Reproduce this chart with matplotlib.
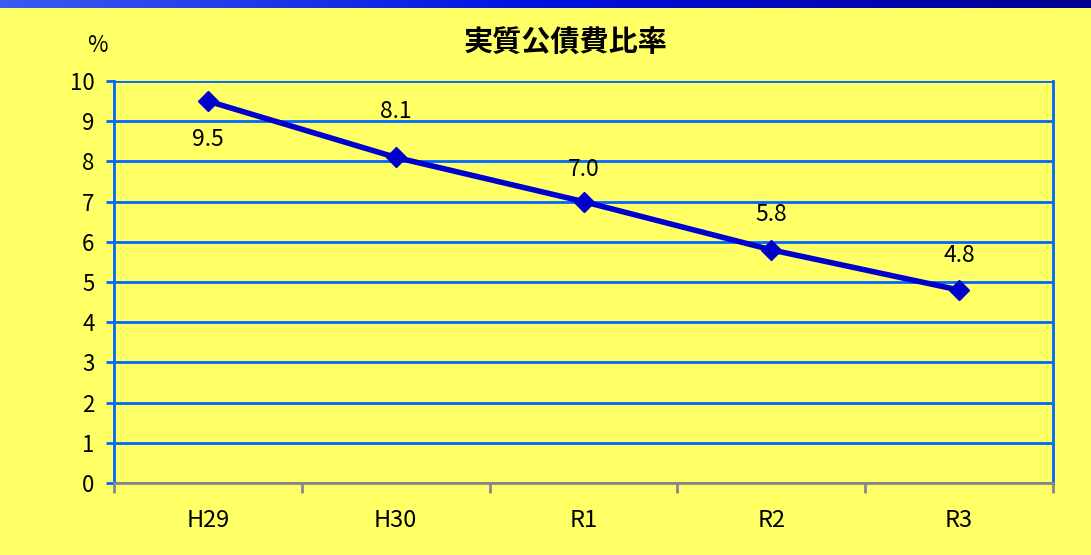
import matplotlib.pyplot as plt
import numpy as np
from matplotlib.colors import LinearSegmentedColormap

plt.rcParams['font.family'] = ['Noto Sans CJK JP', 'DejaVu Sans']

categories = ['H29', 'H30', 'R1', 'R2', 'R3']
values = [9.5, 8.1, 7.0, 5.8, 4.8]
labels = ['9.5', '8.1', '7.0', '5.8', '4.8']
y_ticks = list(range(0, 11))

bg = '#ffff66'
grid_blue = '#0066ff'
line_blue = '#0000cc'

# label offsets in pixels (above the point is positive)
label_off_px = [-38, 46, 32, 35, 35]

fig = plt.figure(figsize=(10.91, 5.55), dpi=100, facecolor=bg)

# blue bar at the top
bar = fig.add_axes([0, 1 - 8 / 555, 1, 8 / 555])
grad = np.linspace(0, 1, 256).reshape(1, -1)
cmap = LinearSegmentedColormap.from_list('bar', ['#3a5cf0', '#0010e0', '#000090'])
bar.imshow(grad, aspect='auto', cmap=cmap)
bar.axis('off')

ax = fig.add_axes([114 / 1091, 1 - 483 / 555, (1053 - 114) / 1091, (483 - 81) / 555])
ax.set_facecolor(bg)

x = np.arange(len(categories))
ax.plot(x, values, color=line_blue, lw=4, marker='D', ms=10, zorder=3)

for i, (v, t) in enumerate(zip(values, labels)):
    ax.annotate(t, (i, v), xytext=(0, label_off_px[i] * 0.72), textcoords='offset points',
                ha='center', va='center', fontsize=16.5)

ax.set_xlim(-0.5, len(categories) - 0.5)
ax.set_ylim(0, 10)
ax.set_yticks(y_ticks)
ax.set_yticklabels([str(t) for t in y_ticks], fontsize=16)
ax.grid(axis='y', color=grid_blue, lw=2)
ax.set_axisbelow(True)

ax.set_xticks(x)
ax.set_xticklabels(categories, fontsize=17)
ax.tick_params(axis='x', which='major', length=0, pad=19)
ax.set_xticks(np.arange(-0.5, len(categories), 1), minor=True)
ax.tick_params(axis='x', which='minor', length=7, width=2, color='#888888', direction='out')
ax.tick_params(axis='y', length=6, width=2, color=grid_blue, pad=8)

for s in ['left', 'right']:
    ax.spines[s].set_color(grid_blue)
    ax.spines[s].set_linewidth(2)
ax.spines['top'].set_visible(False)
ax.spines['bottom'].set_color('#888888')
ax.spines['bottom'].set_linewidth(2)

fig.text(566 / 1091, 1 - 43 / 555, '実質公債費比率', ha='center', va='center',
         fontsize=21, fontweight='bold')
fig.text(97 / 1091, 1 - 45 / 555, '%', ha='center', va='center', fontsize=16)

fig.savefig('out.png', dpi=100, facecolor=bg)
